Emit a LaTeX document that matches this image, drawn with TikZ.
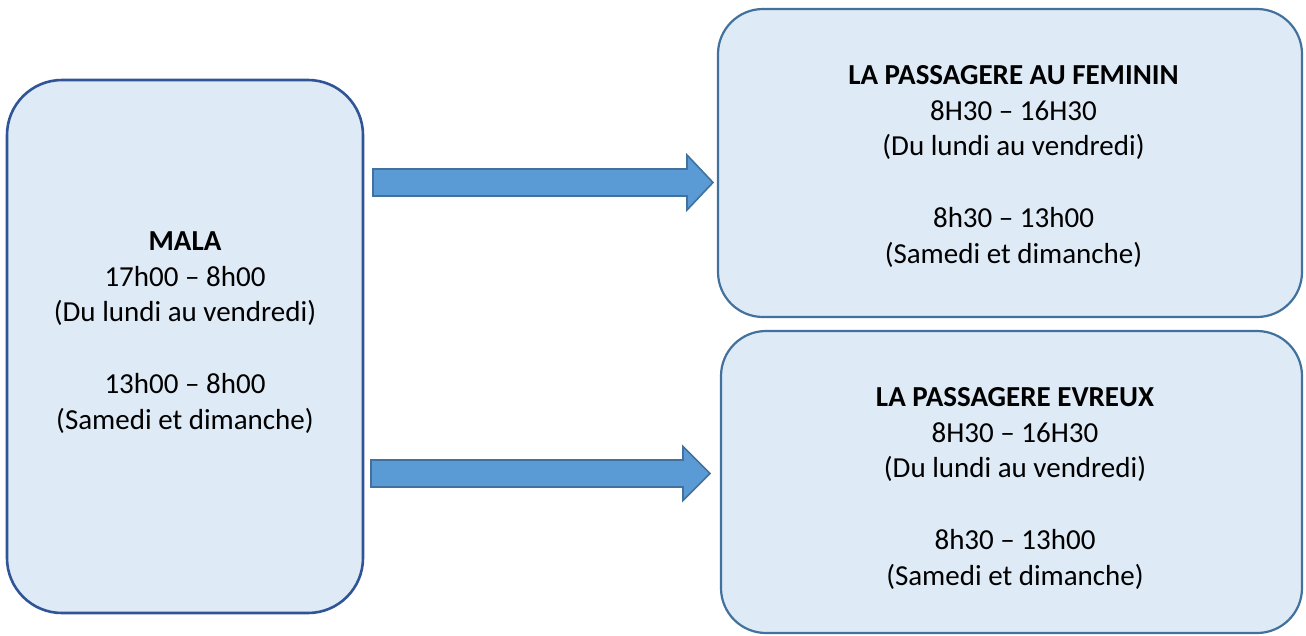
\documentclass[tikz,border=0pt]{standalone}
\usepackage{fontspec}
\setmainfont{Carlito}
\definecolor{boxfill}{HTML}{DEEAF6}
\definecolor{leftedge}{HTML}{2F5597}
\definecolor{rightedge}{HTML}{41719C}
\definecolor{arrowfill}{HTML}{5B9BD5}
\definecolor{arrowedge}{HTML}{41719C}
\tikzset{
  panel/.style={draw, fill=boxfill, rectangle, inner sep=0pt},
  leftpanel/.style={panel, draw=leftedge, line width=2.6pt, rounded corners=55pt},
  rightpanel/.style={panel, draw=rightedge, line width=2.2pt, rounded corners=45pt},
  label/.style={anchor=north, inner sep=0pt, align=center,
    font=\fontsize{29}{35.8}\selectfont},
  blockarrow/.style={draw=arrowedge, fill=arrowfill, line width=1.6pt, line join=miter},
}
% fixed-height strut: the first baseline sits 20pt below the label's top
\newcommand{\firstline}{\rule{0pt}{20pt}}
\begin{document}
\begin{tikzpicture}[x=1pt, y=-1pt]
  \useasboundingbox (0,0) rectangle (1306,635);

  % panels
  \node[leftpanel, minimum width=356pt, minimum height=533pt] (mala) at (185,346.5) {};
  \node[rightpanel, minimum width=584pt, minimum height=308pt] (feminin) at (1010,163) {};
  \node[rightpanel, minimum width=581pt, minimum height=302pt] (evreux) at (1011.5,482) {};

  % panel texts
  \node[label] (malatxt) at (185,230) {\firstline\textbf{MALA}\\17h00 – 8h00\\(Du lundi au vendredi)\\ \\13h00 – 8h00\\(Samedi et dimanche)};
  \node[label] (femtxt) at (1013.5,64) {\firstline\textbf{LA PASSAGERE AU FEMININ}\\8H30 – 16H30\\(Du lundi au vendredi)\\ \\8h30 – 13h00\\(Samedi et dimanche)};
  \node[label] (evrtxt) at (1015,386) {\firstline\textbf{LA PASSAGERE EVREUX}\\8H30 – 16H30\\(Du lundi au vendredi)\\ \\8h30 – 13h00\\(Samedi et dimanche)};

  % block arrows
  \coordinate (arrA) at (373,182.5);
  \coordinate (arrB) at (371,473.5);
  \path[blockarrow] (arrA) ++(0,-13.5) -- ++(314,0) -- ++(0,-14) -- ++(26,27.5)
    -- ++(-26,27.5) -- ++(0,-14) -- ++(-314,0) -- cycle;
  \path[blockarrow] (arrB) ++(0,-13.5) -- ++(312,0) -- ++(0,-13.5) -- ++(27,27)
    -- ++(-27,27) -- ++(0,-13.5) -- ++(-312,0) -- cycle;
\end{tikzpicture}
\end{document}
